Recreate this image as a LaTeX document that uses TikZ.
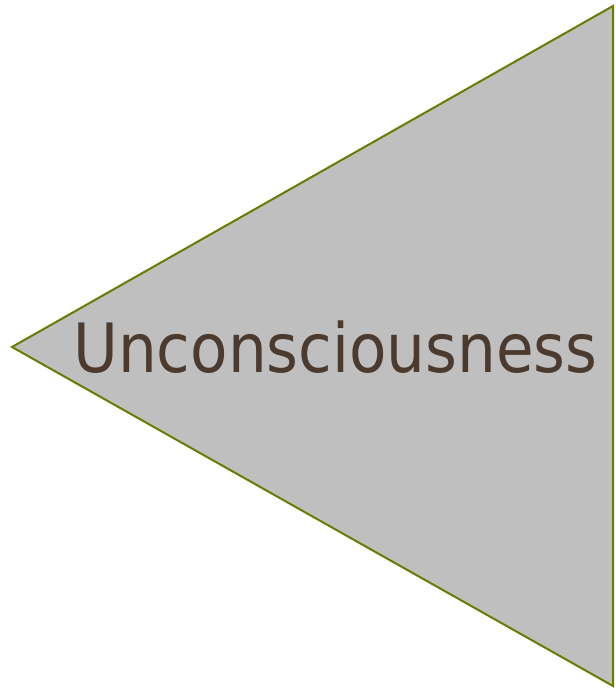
\documentclass[tikz,border=0pt]{standalone}
\usepackage{fontspec}
\newfontfamily\labelfont{DejaVu Sans Condensed}
\usetikzlibrary{positioning}
\definecolor{wedgefill}{HTML}{BFBFBF}
\definecolor{wedgeline}{HTML}{6B7A00}
\definecolor{labeltext}{HTML}{4B3A2E}

\begin{document}
\begin{tikzpicture}[
  x=1pt, y=1pt,
  wedge/.style={draw=wedgeline, line width=2pt, fill=wedgefill, line join=miter},
  label/.style={text=labeltext, font=\labelfont\fontsize{68}{80}\selectfont,
                inner sep=0pt, anchor=base}
]
\useasboundingbox (0,0) rectangle (616,691);
\coordinate (tip) at (12,344);
\coordinate (top) at (613,685);
\coordinate (bottom) at (613,5);
\draw[wedge] (tip) -- (top) -- (bottom) -- cycle;
\node[label] (word) at (335.5,318) {Unconsciousness};
\end{tikzpicture}
\end{document}
